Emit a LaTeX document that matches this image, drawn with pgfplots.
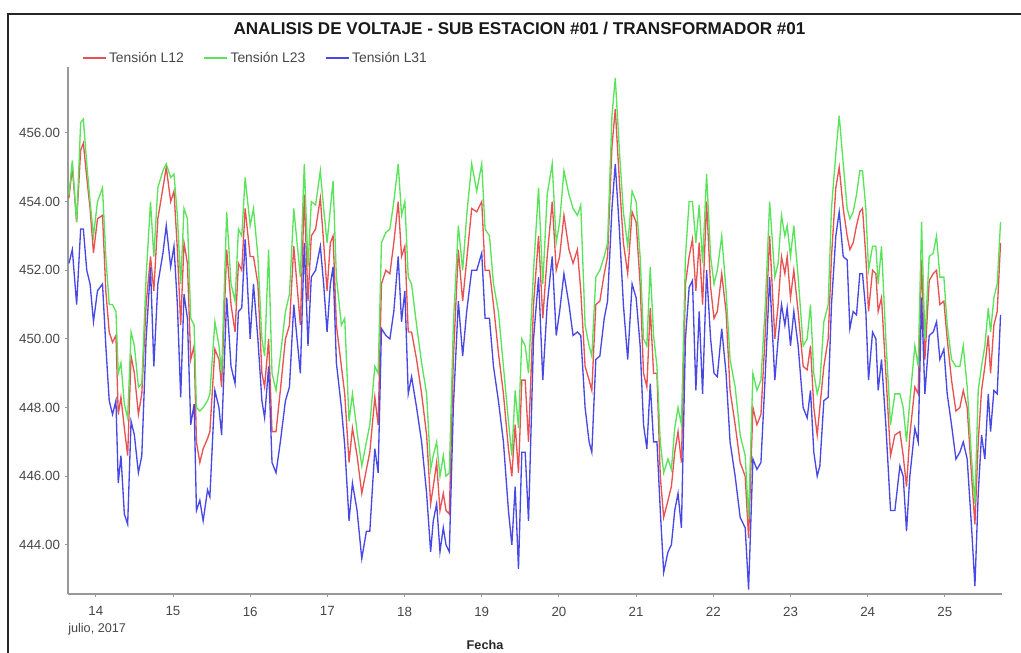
\documentclass[border=0pt]{standalone}
\usepackage{fontspec}
\setmainfont{Liberation Sans}
\usepackage{pgfplots}
\pgfplotsset{compat=1.18}
\usepackage{pgfplotstable}

\definecolor{lred}{RGB}{232,82,82}
\definecolor{lgreen}{RGB}{90,228,90}
\definecolor{lblue}{RGB}{72,72,228}

% day of July 2017, L12, L23, L31 (V)
\pgfplotstableread{
d L12 L23 L31
13.652 454.1 454.2 452.2
13.696 455.0 455.2 452.6
13.752 453.4 453.4 451.0
13.804 455.5 456.3 453.2
13.839 455.7 456.4 453.2
13.883 454.7 455.1 452.0
13.926 453.8 454.0 451.6
13.970 452.5 453.0 450.5
14.022 453.5 454.0 451.4
14.087 453.6 454.4 451.6
14.130 451.4 452.4 449.8
14.174 450.2 451.0 448.2
14.217 449.9 451.0 447.8
14.261 450.1 450.8 448.2
14.291 447.8 449.0 445.8
14.326 448.3 449.3 446.6
14.370 447.4 448.1 444.9
14.413 446.6 447.7 444.6
14.457 449.5 450.2 447.6
14.500 449.0 449.8 447.2
14.552 447.8 448.6 446.1
14.596 448.4 448.7 446.6
14.652 451.0 451.8 450.0
14.709 452.4 454.0 452.1
14.752 451.4 452.4 449.2
14.804 453.5 454.4 451.6
14.870 454.4 454.9 452.5
14.913 455.0 455.1 453.3
14.970 454.0 454.7 452.1
15.013 454.3 454.8 452.7
15.057 452.6 453.6 451.0
15.100 450.4 451.6 448.3
15.143 452.8 453.8 451.3
15.187 452.2 453.5 450.6
15.230 449.4 450.6 447.5
15.274 449.8 450.4 448.1
15.304 447.0 448.0 445.0
15.348 446.4 447.9 445.3
15.391 446.8 448.0 444.7
15.448 447.1 448.2 445.6
15.478 447.3 448.4 445.4
15.543 449.7 450.5 448.5
15.596 449.4 449.8 448.0
15.630 448.6 449.0 447.2
15.696 452.6 453.7 451.2
15.752 451.0 451.6 449.2
15.804 450.2 451.1 448.7
15.848 452.2 453.2 450.8
15.891 452.0 453.0 450.9
15.935 453.8 454.7 452.9
16.000 452.4 453.3 450.0
16.043 452.4 453.8 451.6
16.100 451.6 452.4 450.0
16.152 449.0 450.0 448.2
16.187 448.6 449.5 447.7
16.239 450.0 452.6 449.2
16.283 447.3 449.0 446.4
16.335 447.3 448.5 446.1
16.391 448.5 449.5 447.0
16.457 450.0 450.8 448.2
16.509 450.4 451.3 448.6
16.565 452.7 453.8 451.0
16.650 450.4 451.8 449.0
16.701 454.2 455.1 452.8
16.749 451.1 452.1 449.8
16.792 453.0 454.0 451.8
16.848 453.2 453.9 452.0
16.909 454.1 454.9 452.7
16.952 452.8 453.8 451.6
16.996 451.4 452.8 450.2
17.039 452.8 453.8 451.6
17.074 453.0 454.6 452.1
17.117 450.4 451.8 449.3
17.182 449.2 450.4 448.0
17.225 448.4 450.6 446.9
17.281 446.4 447.6 444.7
17.325 447.4 448.4 445.8
17.385 446.6 447.3 445.0
17.446 445.5 446.3 443.6
17.506 446.2 447.0 444.4
17.550 446.7 447.5 444.4
17.615 448.3 449.2 446.8
17.658 447.5 449.0 446.1
17.701 451.6 452.8 450.3
17.758 452.0 453.1 450.1
17.810 451.9 453.2 450.0
17.861 452.8 454.0 450.8
17.918 454.0 455.1 452.4
17.961 452.4 453.6 450.5
18.004 452.7 454.0 451.4
18.048 450.2 451.8 448.4
18.091 450.2 451.6 448.9
18.156 449.4 450.4 448.0
18.221 448.4 449.3 447.0
18.286 447.2 448.4 445.5
18.338 445.2 446.2 443.8
18.372 445.7 446.6 444.7
18.416 446.4 447.0 445.2
18.459 445.0 446.0 443.8
18.502 445.5 446.6 444.5
18.537 445.0 446.0 444.0
18.580 444.9 446.1 443.8
18.632 449.4 450.4 448.0
18.697 452.6 453.3 451.1
18.753 451.1 452.0 449.5
18.805 452.3 453.6 450.8
18.870 453.8 455.1 452.0
18.935 453.7 454.3 452.0
19.000 454.0 455.1 452.5
19.043 452.0 453.2 450.6
19.100 452.0 453.0 450.6
19.152 451.0 451.6 449.2
19.216 449.6 450.8 448.2
19.281 448.4 449.2 447.0
19.346 446.8 447.6 445.0
19.390 446.0 446.6 444.0
19.433 447.5 448.5 445.7
19.476 446.1 447.4 443.3
19.519 448.8 450.0 446.7
19.563 448.8 449.8 446.7
19.606 447.0 449.0 444.7
19.671 451.0 452.0 450.0
19.736 453.0 454.4 451.8
19.791 450.6 451.6 448.8
19.848 452.4 454.2 451.0
19.913 454.0 455.1 452.4
19.965 452.0 452.8 450.1
20.009 452.4 453.4 450.8
20.065 453.6 454.9 451.9
20.130 452.6 454.2 451.0
20.183 452.2 453.8 450.1
20.239 452.6 453.6 450.2
20.283 451.4 453.9 450.1
20.339 449.2 450.4 448.0
20.391 448.8 449.8 447.0
20.426 448.5 449.5 446.7
20.478 451.0 451.8 449.4
20.530 451.1 452.0 449.5
20.587 451.9 452.4 450.6
20.630 452.4 452.8 451.1
20.687 455.6 456.5 453.8
20.730 456.7 457.6 455.1
20.783 454.6 455.5 453.2
20.835 452.8 453.7 451.0
20.891 451.9 452.7 449.4
20.948 453.7 454.3 451.6
21.000 453.4 454.0 451.2
21.052 451.6 452.4 449.8
21.096 449.0 450.0 447.5
21.139 448.6 449.8 446.8
21.183 450.9 452.1 448.7
21.226 449.0 450.1 447.0
21.270 449.0 449.2 447.0
21.313 446.0 447.0 445.0
21.357 444.8 446.1 443.2
21.413 445.3 446.5 443.8
21.457 445.7 446.2 444.0
21.500 446.7 447.4 445.0
21.543 447.3 448.0 445.5
21.587 446.4 447.5 444.5
21.639 451.6 452.4 450.0
21.687 452.4 454.0 451.5
21.730 452.9 454.0 451.7
21.774 451.4 452.8 448.5
21.817 452.8 453.9 450.8
21.861 451.0 452.2 448.4
21.913 454.0 454.8 452.0
21.965 451.5 452.4 450.0
22.009 450.6 451.6 449.0
22.052 450.8 452.0 448.9
22.109 451.9 453.0 450.3
22.165 450.8 451.4 449.0
22.217 448.5 449.4 447.0
22.283 447.5 448.6 446.0
22.348 446.4 447.2 444.8
22.413 446.0 446.6 444.5
22.457 444.2 444.8 442.7
22.513 448.0 449.0 446.5
22.565 447.5 448.5 446.2
22.617 447.8 448.8 446.4
22.674 450.2 451.0 449.0
22.730 453.0 454.0 451.8
22.797 450.0 451.8 448.8
22.840 451.0 452.2 450.0
22.883 452.4 453.6 451.0
22.927 451.9 453.0 450.4
22.957 452.4 453.3 450.9
23.000 451.2 452.4 449.8
23.043 452.0 453.3 450.8
23.099 450.8 451.8 449.8
23.164 449.2 449.8 448.0
23.216 449.1 450.0 447.7
23.259 449.8 451.0 448.5
23.302 448.0 449.0 446.7
23.346 447.2 448.4 446.0
23.380 448.0 448.7 446.3
23.432 449.2 450.5 448.2
23.488 450.0 451.0 448.3
23.531 452.4 453.8 451.0
23.587 454.4 455.4 453.0
23.631 455.0 456.5 453.7
23.683 453.8 455.1 452.4
23.734 453.0 453.8 452.3
23.769 452.6 453.5 450.3
23.812 452.8 453.7 450.8
23.855 453.3 454.2 450.7
23.898 453.7 454.9 451.9
23.933 453.8 454.9 451.9
23.976 452.4 453.8 450.8
24.011 450.8 452.0 448.8
24.063 452.0 452.7 450.2
24.106 451.9 452.7 450.0
24.136 450.8 451.6 448.5
24.179 451.2 452.7 449.4
24.235 449.0 450.0 447.5
24.296 446.6 447.5 445.0
24.352 447.2 448.4 445.0
24.417 447.3 448.4 446.3
24.460 446.6 448.0 446.0
24.503 445.7 447.0 444.4
24.546 447.2 448.2 446.0
24.611 448.6 449.8 447.4
24.654 448.4 449.2 447.0
24.698 452.3 453.4 451.2
24.741 449.4 450.0 448.4
24.797 451.7 452.4 450.1
24.849 451.9 452.5 450.2
24.892 452.0 453.0 450.5
24.935 451.0 451.8 449.4
24.987 451.1 451.8 449.7
25.030 450.0 450.4 448.4
25.086 448.8 449.4 447.5
25.143 447.9 449.2 446.5
25.194 448.0 449.2 446.7
25.238 448.5 449.8 447.0
25.289 448.0 448.6 446.5
25.346 446.0 446.5 444.5
25.389 444.6 445.2 442.8
25.432 447.0 448.5 445.5
25.475 448.5 449.2 447.2
25.518 449.2 449.8 446.5
25.562 450.1 450.9 448.4
25.592 449.0 450.2 447.3
25.635 450.4 451.2 448.5
25.678 450.8 451.6 448.4
25.721 452.8 453.4 450.7
}\volt

\begin{document}
\begin{tikzpicture}
\begin{axis}[
  scale only axis, width=700.5pt, height=395.25pt,
  xmin=13.64, xmax=25.74, ymin=442.57, ymax=457.92,
  axis x line=bottom, axis y line=left,
  axis line style={-, gray!80, line width=0.9pt},
  xtick={14,...,25}, ytick={444,446,...,456},
  tick align=outside, major tick length=2.5pt,
  tick style={gray!80, line width=0.7pt},
  tick label style={font=\fontsize{10}{12}\selectfont, text=black!72},
  xticklabel style={yshift=-3.5pt},
  /pgf/number format/assume math mode=true,
  yticklabel style={/pgf/number format/fixed, /pgf/number format/fixed zerofill,
    /pgf/number format/precision=2},
  title={ANALISIS DE VOLTAJE - SUB ESTACION \#01 / TRANSFORMADOR \#01},
  title style={font=\bfseries\fontsize{12.8}{15}\selectfont, text=black!90,
    at={(axis description cs:0.4834,1.0588)}, anchor=center},
  xlabel={Fecha},
  xlabel style={font=\bfseries\fontsize{9.5}{11}\selectfont, text=black!85,
    at={(axis description cs:0.4465,-0.0968)}, anchor=center},
  legend columns=3,
  legend style={at={(axis description cs:0.015,1.017)}, anchor=west,
    draw=none, fill=none, inner sep=0pt,
    font=\fontsize{10.4}{12}\selectfont, text=black!72,
    /tikz/every even column/.append style={column sep=13pt}},
  legend cell align=left,
  clip=false,
  every axis plot/.append style={line width=1pt, mark=none},
]
\addplot[lred] table[x=d, y=L12] {\volt};
\addlegendentry{Tensión L12}
\addplot[lgreen] table[x=d, y=L23] {\volt};
\addlegendentry{Tensión L23}
\addplot[lblue] table[x=d, y=L31] {\volt};
\addlegendentry{Tensión L31}
\node[anchor=west, font=\fontsize{9.5}{11}\selectfont, text=black!72, inner sep=0pt]
  at (axis description cs:0,-0.0664) {julio, 2017};
\end{axis}
% outer frame and page size, in pixels of the reference
\begin{scope}[x=0.75pt, y=-0.75pt, shift={(-51pt,445.5pt)}]
  \draw[line width=1.5pt, black!85] (8,653) -- (8,14) -- (1021,14);
  \pgfresetboundingbox
  \path[use as bounding box] (0,0) rectangle (1021,653);
\end{scope}
\end{tikzpicture}
\end{document}
